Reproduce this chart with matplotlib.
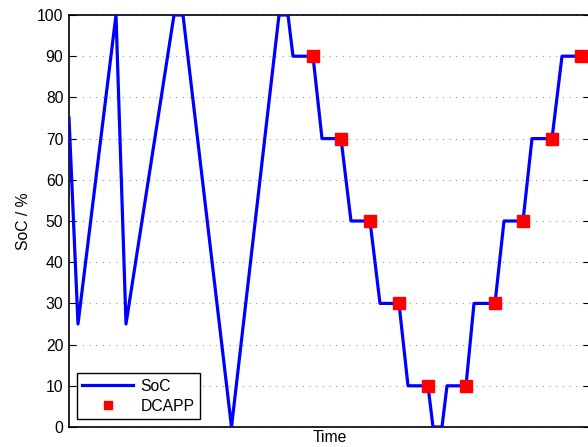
import numpy as np
import matplotlib.pyplot as plt

plt.rcParams['font.family'] = ['Liberation Sans', 'DejaVu Sans']

# time axis in arbitrary units (no ticks shown)
t_soc = [0, 9, 47, 57, 105, 114, 162.5, 210, 219, 224, 244, 253, 272, 282, 301,
         311, 330, 339, 359, 364, 373, 378, 397, 405, 426, 435, 454, 463, 483,
         493, 521]
soc = [75, 25, 100, 25, 100, 100, 0, 100, 100, 90, 90, 70, 70, 50, 50,
       30, 30, 10, 10, 0, 0, 10, 10, 30, 30, 50, 50, 70, 70,
       90, 90]

t_dcapp = [244, 272, 301, 330, 359, 397, 426, 454, 483, 512]
dcapp = [90, 70, 50, 30, 10, 10, 30, 50, 70, 90]

fs = 11.3
fig = plt.figure(figsize=(5.88, 4.47), dpi=100)
ax = fig.add_axes([69/588, 20/447, 521/588, 412/447])

ax.plot(t_soc, soc, color='blue', lw=2.3, label='SoC', zorder=3)
ax.plot(t_dcapp, dcapp, 's', color='red', ms=8.5, label='DCAPP', zorder=4)

ax.set_xlim(0, 521)
ax.set_ylim(0, 100)
ax.set_yticks(np.arange(0, 101, 10))
ax.set_xticks([])
ax.yaxis.grid(True, linestyle=(0, (1, 5)), color='#999999', lw=0.8)
ax.tick_params(axis='y', direction='in', length=5, width=0.8,
               right=True, labelsize=fs, pad=4)
for s in ax.spines.values():
    s.set_linewidth(1.2)

ax.set_ylabel('SoC / %', fontsize=fs, labelpad=4)
ax.set_xlabel('Time', fontsize=fs, labelpad=2)

leg = ax.legend(loc='lower left', fontsize=fs, fancybox=False,
                edgecolor='black', framealpha=1, markerscale=0.65,
                handlelength=3.2, handletextpad=0.5, borderpad=0.35,
                labelspacing=0.3, borderaxespad=0,
                bbox_to_anchor=(8/521, 8/412))
leg.get_frame().set_linewidth(1.0)

fig.savefig('out.png', dpi=100)
